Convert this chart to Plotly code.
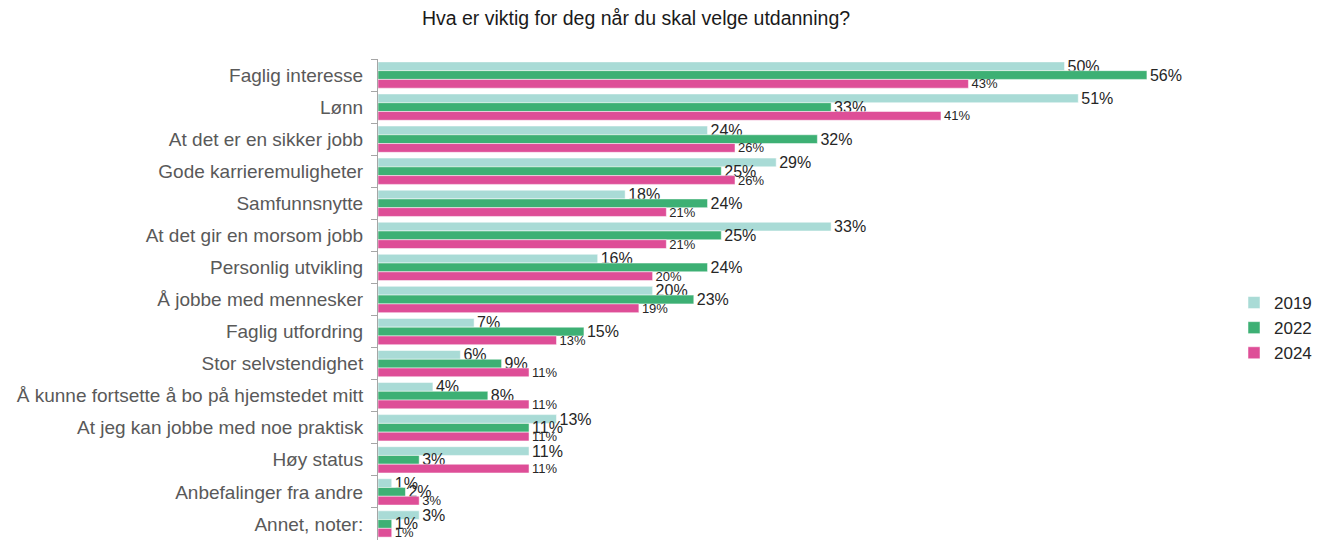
import plotly.graph_objects as go

categories = ["Faglig interesse", "Lønn", "At det er en sikker jobb", "Gode karrieremuligheter",
              "Samfunnsnytte", "At det gir en morsom jobb", "Personlig utvikling",
              "Å jobbe med mennesker", "Faglig utfordring", "Stor selvstendighet",
              "Å kunne fortsette å bo på hjemstedet mitt", "At jeg kan jobbe med noe praktisk",
              "Høy status", "Anbefalinger fra andre", "Annet, noter:"]
v2019 = [50, 51, 24, 29, 18, 33, 16, 20, 7, 6, 4, 13, 11, 1, 3]
v2022 = [56, 33, 32, 25, 24, 25, 24, 23, 15, 9, 8, 11, 3, 2, 1]
v2024 = [43, 41, 26, 26, 21, 21, 20, 19, 13, 11, 11, 11, 11, 3, 1]
series_names = ["2019", "2022", "2024"]
colors = ["#A9DBD6", "#3DB074", "#DE4E97"]
label_sizes = [16, 16, 13]

fig = go.Figure()
for name, vals, col, ls in zip(series_names, [v2019, v2022, v2024], colors, label_sizes):
    fig.add_trace(go.Bar(
        y=categories, x=vals, name=name, orientation="h",
        marker=dict(color=col, line=dict(color="white", width=0.5)),
        texttemplate="%{x}%", textposition="outside", constraintext="none",
        textfont=dict(size=ls, color="#262626", family="Liberation Sans, Arial"),
        cliponaxis=False,
    ))

# page has an 8px body margin, so figure coordinates are page coordinates minus 8
fig.update_layout(
    width=1321, height=540,
    barmode="group", bargap=0.18, bargroupgap=0.0,
    plot_bgcolor="white", paper_bgcolor="white",
    font=dict(family="Liberation Sans, Arial", color="#404040"),
    margin=dict(l=370, r=99, t=51, b=8, autoexpand=False),
    title=dict(text="Hva er viktig for deg når du skal velge utdanning?",
               x=628 / 1321, xanchor="center", y=1 - 10 / 540, yref="container", yanchor="middle",
               font=dict(size=19.5, color="#1a1a1a")),
    legend=dict(xref="container", x=1226 / 1321, xanchor="left",
                yref="container", y=1 - 320 / 540, yanchor="middle",
                font=dict(size=17, color="#262626"), itemwidth=30, tracegroupgap=0),
    showlegend=True,
)
fig.update_xaxes(range=[0, 62.05], visible=False, showgrid=False)
fig.update_yaxes(autorange="reversed", type="category", showline=True, linecolor="#A6A6A6",
                 linewidth=1, ticks="outside", tickson="boundaries", ticklen=6,
                 tickcolor="#A6A6A6", tickfont=dict(size=19, color="#595959"),
                 showgrid=False, ticklabelstandoff=10, automargin=False)

fig.write_html("out.html")
